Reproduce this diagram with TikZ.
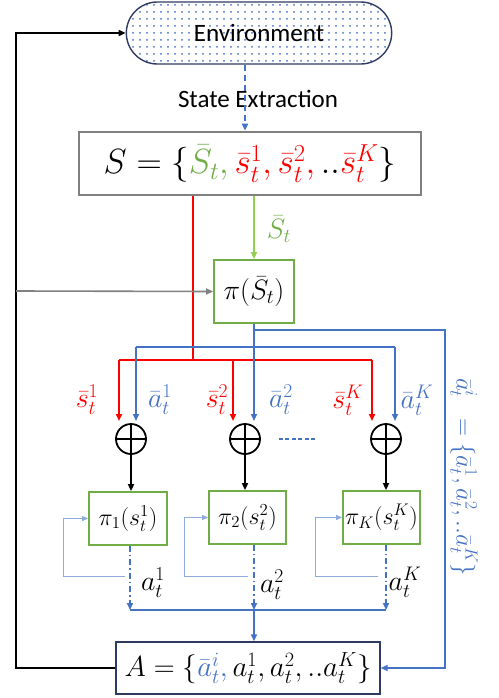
\RequirePackage{fix-cm}
\documentclass[tikz,border=0pt]{standalone}
\usepackage[no-math]{fontspec}
\setmainfont{Carlito}
\usetikzlibrary{arrows.meta,shapes.misc,patterns.meta}
\definecolor{cblue}{HTML}{4472C4}
\definecolor{lblue}{HTML}{8FAADC}
\definecolor{cred}{HTML}{FF0000}
\definecolor{cgreen}{HTML}{70AD47}
\definecolor{agreen}{HTML}{92D050}
\definecolor{cgray}{HTML}{808080}
\definecolor{navy}{HTML}{2F3B60}
\begin{document}
\begin{tikzpicture}[x=1pt,y=-1pt,
  arr/.style={-{Triangle[length=7pt,width=6pt]}},
  redl/.style={draw=cred,line width=1.8pt},
  bluel/.style={draw=cblue,line width=1.6pt},
  thinb/.style={draw=lblue,line width=1pt},
  blk/.style={draw=black,line width=1.8pt},
  greenbox/.style={draw=cgreen,line width=1.8pt,inner sep=0pt},
  oplus/.style={circle,draw,line width=1.8pt,minimum size=30pt,inner sep=0pt,
    path picture={\draw[line width=1.8pt] (path picture bounding box.north) -- (path picture bounding box.south) (path picture bounding box.west) -- (path picture bounding box.east);}},
  lab/.style={inner sep=0pt,font=\fontsize{28}{32}\selectfont},
  dashdot/.style={draw=cblue,line width=1.6pt,dash pattern=on 6pt off 3pt on 1.5pt off 3pt}
]
\useasboundingbox (0,0) rectangle (498,698);
% environment
\node[rounded rectangle,draw=navy,line width=1.4pt,minimum width=272pt,minimum height=62pt,
  pattern={Dots[distance=7pt,radius=1pt]},pattern color=cblue,
  font=\fontsize{25}{30}\selectfont] (env) at (259,33) {Environment};
\node[font=\fontsize{25}{30}\selectfont,inner sep=0pt] (se) at (258,99) {State Extraction};
% S box
\node[draw=cgray,line width=2.6pt,minimum width=342pt,minimum height=63pt,
  font=\fontsize{35}{40}\selectfont] (S) at (250,163.5)
  {$S=\{\textcolor{cgreen}{\bar S_t,}\,\textcolor{cred}{\bar s_t^1,}\,\textcolor{cred}{\bar s_t^2,}\,..\textcolor{cred}{\bar s_t^K}\}$};
\coordinate (ex) at (245,0);
\draw[draw=cblue,line width=1.6pt,dash pattern=on 6pt off 4pt,arr] (env.south -| ex) -- (S.north -| ex);
% pi box
\node[greenbox,minimum width=80pt,minimum height=63pt,font=\fontsize{28}{32}\selectfont] (pi) at (254,291.5) {$\pi(\bar S_t)$};
\draw[draw=agreen,line width=1.6pt,arr] (S.south -| pi) -- (pi.north);
\node[lab,text=cgreen] (lst) at (279,229) {$\bar S_t$};
% circles
\node[oplus] (c1) at (131,439) {};
\node[oplus] (c2) at (245,439) {};
\node[oplus] (c3) at (386,439) {};
\draw[draw=cblue,line width=1.4pt,dash pattern=on 4pt off 2.5pt] (c2.east) ++(18,0) coordinate (dd1) -- ++(38,0) coordinate (dd2);
% red lines
\coordinate (r0) at (193,360);
\coordinate (rA) at (119,360);
\coordinate (rB) at (233,360);
\coordinate (rC) at (372,360);
\coordinate (tip) at (0,421);
\draw[redl] (S.south -| r0) -- (r0);
\draw[redl] (rA) -- (rC);
\draw[redl,arr] (rA) -- (rA |- tip);
\draw[redl,arr] (rB) -- (rB |- tip);
\draw[redl,arr] (rC) -- (rC |- tip);
% blue lines
\coordinate (bA) at (136,347);
\coordinate (bC) at (395,347);
\coordinate (bR) at (445,330);
\draw[bluel,arr] (pi.south) -- (pi.south |- tip);
\draw[bluel] (bA) -- (bC);
\draw[bluel,arr] (bA) -- (bA |- tip);
\draw[bluel,arr] (bC) -- (bC |- tip);
% labels
\node[lab,text=cred] (ls1) at (87,400) {$\bar s_t^1$};
\node[lab,text=cblue] (la1) at (160,400) {$\bar a_t^1$};
\node[lab,text=cred] (ls2) at (217,400) {$\bar s_t^2$};
\node[lab,text=cblue] (la2) at (281,400) {$\bar a_t^2$};
\node[lab,text=cred] (ls3) at (348,400) {$\bar s_t^K$};
\node[lab,text=cblue] (la3) at (417,400) {$\bar a_t^K$};
% policy boxes
\node[greenbox,minimum width=78pt,minimum height=53pt,font=\fontsize{24}{28}\selectfont] (p1) at (128,518.5) {$\pi_1(s_t^1)$};
\node[greenbox,minimum width=77pt,minimum height=53pt,font=\fontsize{24}{28}\selectfont] (p2) at (247.5,517.5) {$\pi_2(s_t^2)$};
\node[greenbox,minimum width=77pt,minimum height=53pt,font=\fontsize{24}{28}\selectfont] (p3) at (381.5,517.5) {$\pi_K(s_t^K)$};
\draw[blk,arr] (c1.south) -- (c1.south |- p1.north);
\draw[blk,arr] (c2.south) -- (c2.south |- p2.north);
\draw[blk,arr] (c3.south) -- (c3.south |- p3.north);
% dash-dot outputs
\coordinate (k1) at (130,610);
\coordinate (k2) at (254,610);
\coordinate (k3) at (386,610);
\draw[dashdot,arr] (p1.south -| k1) -- (k1);
\draw[dashdot,arr] (p2.south -| k2) -- (k2);
\draw[dashdot,arr] (p3.south -| k3) -- (k3);
\draw[bluel] (k1) -- (k3);
% feedback loops
\coordinate (f1) at (125,576);
\coordinate (f2) at (248,576);
\coordinate (f3) at (378,576);
\draw[thinb,-{Triangle[length=6pt,width=5pt]}] (f1) -- (63,576) |- (p1.west);
\draw[thinb,-{Triangle[length=6pt,width=5pt]}] (f2) -- (184,576) |- (p2.west);
\draw[thinb,-{Triangle[length=6pt,width=5pt]}] (f3) -- (315,576) |- (p3.west);
\node[lab] (a1) at (153,583) {$a_t^1$};
\node[lab] (a2) at (272,585) {$a_t^2$};
\node[lab] (a3) at (405,582) {$a_t^K$};
% A box
\node[draw=navy,line width=1.4pt,minimum width=264pt,minimum height=52pt,font=\fontsize{29}{33}\selectfont] (A) at (248,668)
  {$A=\{\textcolor{cblue}{\bar a_t^i,}\,a_t^1,a_t^2,..a_t^K\}$};
\draw[bluel,arr] (k2) -- (k2 |- A.north);
\draw[bluel,arr] (pi.south |- bR) -- (bR) |- (A.east);
% black feedback
\coordinate (L) at (16,33);
\draw[blk,arr] (A.west) -| (L) -- (env.west);
\coordinate (g) at (16,291);
\draw[draw=cgray,line width=1.6pt,arr] (g) -- (pi.west);
% rotated label
\node[inner sep=0pt,font=\fontsize{25}{29}\selectfont,rotate=-90,text=cblue] (rot) at (464,477) {$\bar a_t^i\;\;=\{\bar a_t^1,\bar a_t^2,..\bar a_t^K\}$};
\end{tikzpicture}
\end{document}
